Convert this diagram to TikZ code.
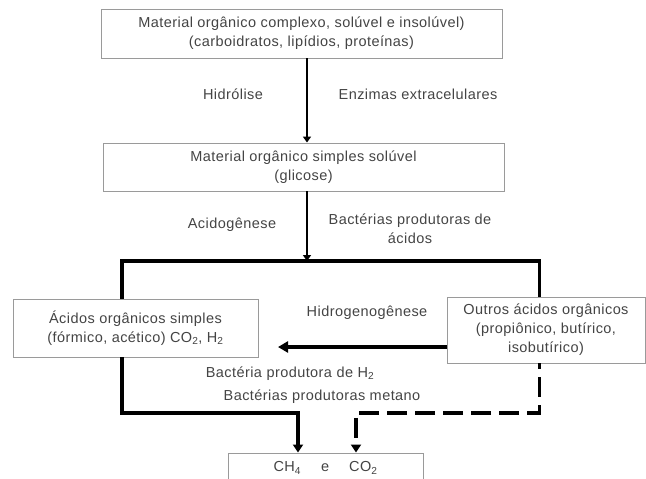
\documentclass[tikz,border=0pt]{standalone}
\usepackage{fontspec}
\setmainfont{Liberation Sans}[LetterSpace=3]
\usetikzlibrary{arrows.meta}
\definecolor{txt}{HTML}{444444}
\definecolor{boxline}{HTML}{9A9A9A}
\tikzset{
  box/.style={draw=boxline, line width=0.9pt, fill=white, inner sep=0pt, align=center, text=txt},
  lbl/.style={inner sep=0pt, align=center, text=txt},
  thinarr/.style={line width=2.4pt, -{Triangle[width=8pt,length=6pt]}},
  bus/.style={line width=3.4pt},
  fatarr/.style={line width=3.2pt, -{Triangle[width=11pt,length=10pt]}},
  dasharr/.style={line width=3.4pt, dash pattern=on 20pt off 8pt, dash phase=14pt, -{Triangle[width=10pt,length=8pt]}},
}
\begin{document}
\begin{tikzpicture}[x=1pt,y=-1pt, font=\fontsize{14.5}{19}\selectfont, line join=miter]
\useasboundingbox (0,0) rectangle (646,479);
\clip (0,0) rectangle (646,479);
% boxes
\node[box, minimum width=401pt, minimum height=49pt] (top) at (301.5,33.5)
  {Material orgânico complexo, solúvel e insolúvel)\\(carboidratos, lipídios, proteínas)};
\node[box, minimum width=401pt, minimum height=48pt] (mid) at (303.5,167)
  {Material orgânico simples solúvel\\(glicose)};
\node[box, minimum width=245pt, minimum height=58pt] (left) at (135.5,328)
  {Ácidos orgânicos simples\\(fórmico, acético) CO\textsubscript{2}, H\textsubscript{2}};
\node[box, minimum width=198pt, minimum height=66pt] (right) at (546,330)
  {Outros ácidos orgânicos\\(propiônico, butírico,\\isobutírico)};
\node[box, minimum width=195pt, minimum height=30pt] (bot) at (325.5,468)
  {CH\textsubscript{4}\hspace{20pt}e\hspace{20pt}CO\textsubscript{2}};
% labels
\node[lbl] (l1) at (233,94) {Hidrólise};
\node[lbl] (l2) at (418,94) {Enzimas extracelulares};
\node[lbl] (l3) at (232,225) {Acidogênese};
\node[lbl] (l4) at (410,229) {Bactérias produtoras de\\ácidos};
\node[lbl] (l5) at (367,313) {Hidrogenogênese};
\node[lbl] (l6) at (290,374) {Bactéria produtora de H\textsubscript{2}};
\node[lbl] (l7) at (322,397) {Bactérias produtoras metano};
% helper coordinates
\coordinate (xa) at (307,0);
\coordinate (xl) at (122,0);
\coordinate (xr) at (539.5,0);
\coordinate (busy) at (0,261);
\coordinate (lowy) at (0,413);
\coordinate (xb1) at (298,0);
\coordinate (xb2) at (356,0);
\coordinate (hy) at (0,347);
\coordinate (htip) at (278,347);
% connectors
\draw[thinarr] (top.south -| xa) -- (mid.north -| xa);
\draw[thinarr] (mid.south -| xa) -- (xa |- busy);
\draw[bus] (left.north -| xl) -- (xl |- busy) -- (xr |- busy) -- (right.north -| xr);
\draw[fatarr] (right.west |- hy) -- (htip);
\draw[line width=3.2pt, -{Triangle[width=10pt,length=8pt]}] (left.south -| xl) -- (xl |- lowy) -- (xb1 |- lowy) -- (bot.north -| xb1);
\draw[dasharr] (right.south -| xr) -- (xr |- lowy) -- (xb2 |- lowy) -- (bot.north -| xb2);
\end{tikzpicture}
\end{document}
